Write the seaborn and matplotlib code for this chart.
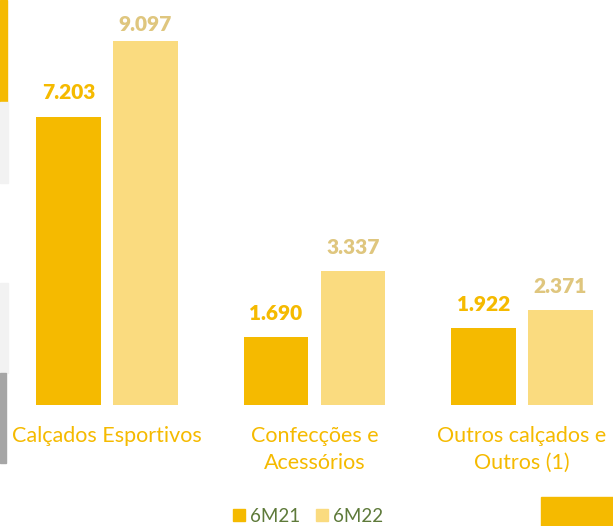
import matplotlib
matplotlib.use("Agg")
import matplotlib.pyplot as plt
from matplotlib.patches import Rectangle
import seaborn as sns
import pandas as pd

categories = ["Calçados Esportivos", "Confecções e\nAcessórios", "Outros calçados e\nOutros (1)"]
series_names = ["6M21", "6M22"]
values_6m21 = [7203, 1690, 1922]
values_6m22 = [9097, 3337, 2371]
value_labels_6m21 = ["7.203", "1.690", "1.922"]
value_labels_6m22 = ["9.097", "3.337", "2.371"]

DARK = "#F5BA00"
LIGHT = "#FADB7F"
LIGHT_TXT = "#DFC67E"
LEG_TXT = "#5E7A3A"

df = pd.DataFrame({
    "cat": categories * 2,
    "serie": [series_names[0]] * 3 + [series_names[1]] * 3,
    "val": values_6m21 + values_6m22,
})

sns.set_theme(style="white")
plt.rcParams["font.family"] = ["Lato", "DejaVu Sans"]

W, H = 613, 526
fig = plt.figure(figsize=(W / 100, H / 100), dpi=100)
base_px = 405
ax = fig.add_axes([0, (H - base_px) / H, 1, base_px / H])

sns.barplot(data=df, x="cat", y="val", hue="serie", order=categories,
            hue_order=series_names, palette=[DARK, LIGHT], width=0.742,
            gap=0.156, saturation=1, ax=ax, legend=False, edgecolor="none")

ax.set_xlim(-0.5157, 2.4386)
ax.set_ylim(0, 10122)
for s in ax.spines.values():
    s.set_visible(False)
ax.set_yticks([])
ax.set_xlabel("")
ax.set_ylabel("")
ax.tick_params(axis="x", length=0, pad=15)
ax.set_xticks(range(len(categories)))
ax.set_xticklabels(categories, color=DARK, fontsize=15.5, linespacing=1.45)

# value labels
for cont, labels, col in zip(ax.containers, [value_labels_6m21, value_labels_6m22], [DARK, LIGHT_TXT]):
    for bar, lab in zip(cont, labels):
        x = bar.get_x() + bar.get_width() / 2
        y = bar.get_height()
        off = 10.5 if y < 8500 else 5
        ax.annotate(lab, (x, y), xytext=(0, off), textcoords="offset points",
                    ha="center", va="bottom", fontsize=15, fontweight="heavy",
                    color=col, annotation_clip=False)

# legend
handles = [Rectangle((0, 0), 1, 1, color=DARK), Rectangle((0, 0), 1, 1, color=LIGHT)]
leg = fig.legend(handles, series_names, loc="center", bbox_to_anchor=(308 / W, 1 - 516 / H),
                 ncol=2, frameon=False, fontsize=13.5, handlelength=0.65, handleheight=0.65,
                 handletextpad=0.3, columnspacing=0.8, borderpad=0)
for t in leg.get_texts():
    t.set_color(LEG_TXT)

# decorative slide fragments
def frect(x0, y0, x1, y1, color):
    fig.patches.append(Rectangle((x0 / W, 1 - y1 / H), (x1 - x0) / W, (y1 - y0) / H,
                                 transform=fig.transFigure, color=color, zorder=0))

frect(0, 0, 7, 102, DARK)
frect(0, 102, 8, 183, "#F2F2F2")
frect(0, 283, 8, 373, "#F2F2F2")
frect(0, 373, 6, 463, "#A6A6A6")
frect(541, 497, 613, 526, DARK)

fig.savefig("out.png", dpi=100)
